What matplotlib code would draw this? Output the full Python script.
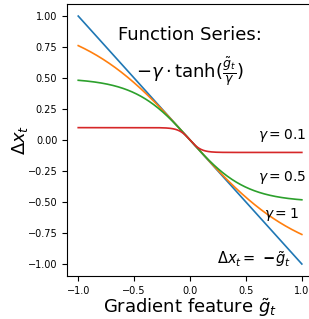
import numpy as np
import matplotlib
matplotlib.use("Agg")
import matplotlib.pyplot as plt

gammas = [1.0, 0.5, 0.1]
gamma_colors = ["#ff7f0e", "#2ca02c", "#d62728"]
gamma_labels = [r"$\gamma = 1$", r"$\gamma = 0.5$", r"$\gamma = 0.1$"]
gamma_label_pos = [(0.82, -0.597), (0.82, -0.306), (0.82, 0.04)]

x = np.linspace(-1, 1, 400)

fig = plt.figure(figsize=(3.09, 3.19), dpi=100)
ax = fig.add_axes([0.217, 0.1335, 0.796, 0.855])

ax.plot(x, -x, color="#1f77b4", lw=1.2)
for g, c in zip(gammas, gamma_colors):
    ax.plot(x, -g * np.tanh(x / g), color=c, lw=1.2)

ax.set_xlim(-1.1, 1.1)
ax.set_ylim(-1.1, 1.1)
ax.set_xticks([-1.0, -0.5, 0.0, 0.5, 1.0])
ax.set_yticks([-1.0, -0.75, -0.5, -0.25, 0.0, 0.25, 0.5, 0.75, 1.0])
ax.tick_params(labelsize=7)

ax.text(0.0, 0.847, "Function Series:", fontsize=13, ha="center", va="center")
ax.text(0.0, 0.548, r"$-\gamma \cdot \tanh(\frac{\tilde{g}_t}{\gamma})$", fontsize=13, ha="center", va="center")
for lab, (px, py) in zip(gamma_labels, gamma_label_pos):
    ax.text(px, py, lab, fontsize=10, ha="center", va="center")
ax.text(0.575, -0.96, r"$\Delta x_t =\ $" + r"$\mathbf{-}$" + r"$\tilde{g}_t$",
        fontsize=10.5, ha="center", va="center")

ax.set_xlabel(r"Gradient feature $\tilde{g}_t$", fontsize=13, labelpad=0)
ax.set_ylabel(r"$\Delta x_t$", fontsize=13)
ax.yaxis.set_label_coords(-0.15, 0.5)

fig.savefig("out.png", dpi=100)
